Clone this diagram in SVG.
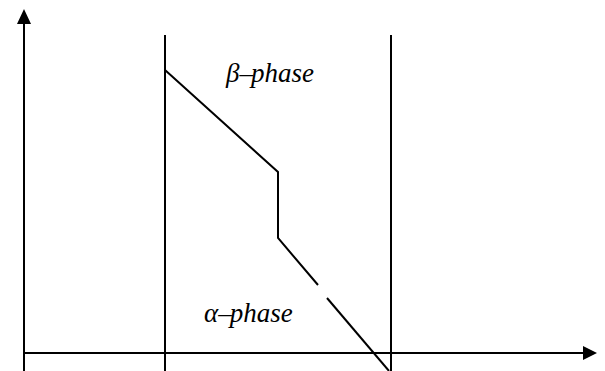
<svg xmlns="http://www.w3.org/2000/svg" width="605" height="371" viewBox="0 0 605 371">
<style>
.ln{stroke:#000;stroke-width:2;fill:none}
.lbl{font-family:"Liberation Serif","Times New Roman",serif;font-style:italic;font-size:27px;fill:#000}
</style>
<rect width="605" height="371" fill="#fff"/>
<g id="axes">
<line class="ln" x1="24" y1="371" x2="24" y2="22"/>
<polygon points="24,9 17,24 31,24" fill="#000"/>
<line class="ln" x1="24" y1="353" x2="585" y2="353"/>
<polygon points="597,353 583,346 583,360" fill="#000"/>
</g>
<g id="boundaries">
<line class="ln" x1="165" y1="35" x2="165" y2="371"/>
<line class="ln" x1="391" y1="35" x2="391" y2="371"/>
</g>
<g id="connectors">
<polyline class="ln" points="165,70 278,172 278,238 318,285"/>
<line class="ln" x1="327" y1="298" x2="389" y2="371"/>
</g>
<g id="beta"><text class="lbl" x="226" y="82">β–<tspan dx="-2">phase</tspan></text></g>
<g id="alpha"><text class="lbl" x="204" y="322">α–<tspan dx="-2">phase</tspan></text></g>
</svg>
